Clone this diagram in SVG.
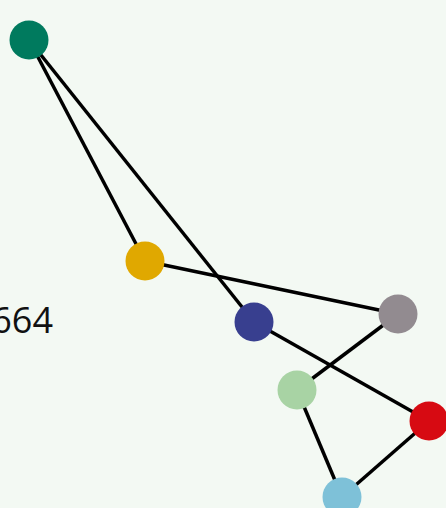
<svg xmlns="http://www.w3.org/2000/svg" width="446" height="508" viewBox="0 0 446 508">
<style>
.edge{stroke:#000;stroke-width:3.5;fill:none}
.lbl{font-family:"Open Sans",sans-serif;font-size:36px;fill:#111}
</style>
<rect width="446" height="508" fill="#f3f9f3"/>
<text class="lbl" x="53" y="333" text-anchor="end">664</text>
<g id="edges">
<line class="edge" x1="29" y1="40" x2="145" y2="261"/>
<line class="edge" x1="29" y1="40" x2="254" y2="322"/>
<line class="edge" x1="145" y1="261" x2="398" y2="314"/>
<line class="edge" x1="254" y1="322" x2="429" y2="421"/>
<line class="edge" x1="398" y1="314" x2="297" y2="390"/>
<line class="edge" x1="297" y1="390" x2="342" y2="497"/>
<line class="edge" x1="429" y1="421" x2="342" y2="497"/>
</g>
<g id="n1"><circle cx="29" cy="40" r="19.5" fill="#007a5e"/></g>
<g id="n2"><circle cx="145" cy="261" r="19.5" fill="#e0a800"/></g>
<g id="n3"><circle cx="254" cy="322" r="19.5" fill="#383f8f"/></g>
<g id="n4"><circle cx="398" cy="314" r="19.5" fill="#928b90"/></g>
<g id="n5"><circle cx="297" cy="390" r="19.5" fill="#a8d3a4"/></g>
<g id="n6"><circle cx="429" cy="421" r="19.5" fill="#d70a12"/></g>
<g id="n7"><circle cx="342" cy="497" r="19.5" fill="#7ec1d8"/></g>
</svg>
